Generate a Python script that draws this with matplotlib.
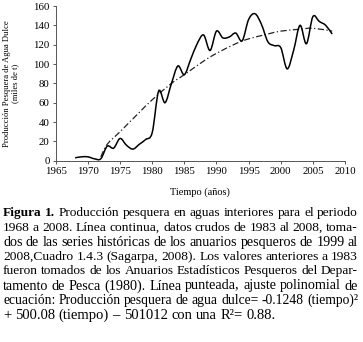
import numpy as np
import matplotlib
matplotlib.use('Agg')
import matplotlib.pyplot as plt
from matplotlib.path import Path
from matplotlib.patches import PathPatch

# raw production data (thousands of t)
years = [1968, 1969, 1970, 1971, 1972, 1973, 1974, 1975, 1976, 1977, 1978,
         1979, 1980, 1981, 1982, 1983, 1984, 1985, 1986, 1987, 1988, 1989,
         1990, 1991, 1992, 1993, 1994, 1995, 1996, 1997, 1998, 1999, 2000,
         2001, 2002, 2003, 2004, 2005, 2006, 2007, 2008]
prod = [3, 4, 4, 2, 2, 15, 13, 23, 16, 12, 17,
        22, 29, 72, 60, 80, 98, 89, 105, 121, 130, 114,
        134, 127, 128, 132, 124, 146, 152, 141, 123, 119, 117,
        95, 114, 140, 121, 149, 144, 140, 131]

# polynomial fit line
fit_years = [1972, 1973, 1975, 1978, 1980, 1983, 1985, 1988, 1990, 1993,
             1995, 1998, 2000, 2003, 2005, 2008]
fit_vals = [4, 17, 30, 50, 63, 80, 89, 103, 111, 121,
            126, 131, 134, 136, 137, 134]

caption = [
    [("Figura 1.", "bold"), ("Producción pesquera en aguas interiores para el periodo", "normal")],
    [("1968 a 2008. Línea continua, datos crudos de 1983 al 2008, toma-", "normal")],
    [("dos de las series históricas de los anuarios pesqueros de 1999 al", "normal")],
    [("2008,Cuadro 1.4.3 (Sagarpa, 2008). Los valores anteriores a 1983", "normal")],
    [("fueron tomados de los Anuarios Estadísticos Pesqueros del Depar-", "normal")],
    [("tamento de Pesca (1980). Línea punteada, ajuste polinomial de", "normal")],
    [("ecuación:  Producción pesquera de agua dulce= -0.1248 (tiempo)²", "normal")],
    [("+ 500.08 (tiempo) – 501012 con una R²= 0.88.", "normal")],
]


def smooth_path(x, y):
    # bezier curve through the points, like a spreadsheet "smoothed line"
    x = np.asarray(x, float)
    y = np.asarray(y, float)
    n = len(x)
    verts = [(x[0], y[0])]
    codes = [Path.MOVETO]
    for i in range(n - 1):
        xa, ya = (x[i - 1], y[i - 1]) if i > 0 else (x[i], y[i])
        xb, yb = (x[i + 2], y[i + 2]) if i + 2 < n else (x[i + 1], y[i + 1])
        c1 = (x[i] + (x[i + 1] - xa) / 6, y[i] + (y[i + 1] - ya) / 6)
        c2 = (x[i + 1] - (xb - x[i]) / 6, y[i + 1] - (yb - y[i]) / 6)
        verts += [c1, c2, (x[i + 1], y[i + 1])]
        codes += [Path.CURVE4] * 3
    return Path(verts, codes)


plt.rcParams['font.family'] = ['Liberation Serif', 'DejaVu Serif']

W, H = 363, 342
fig = plt.figure(figsize=(W / 100, H / 100), dpi=100)
ax = fig.add_axes([55.8 / W, 1 - 160.7 / H, 289.2 / W, 154.7 / H])

ax.add_patch(PathPatch(smooth_path(fit_years, fit_vals), fill=False,
                       ec='#222222', lw=0.9, ls=(0, (5, 2, 1, 2))))
ax.add_patch(PathPatch(smooth_path(years, prod), fill=False, ec='black', lw=1.1))

ax.set_xlim(1965, 2010)
ax.set_ylim(0, 160)
ax.set_xticks(range(1965, 2011, 5))
ax.set_yticks(range(0, 161, 20))
for s in ['top', 'right']:
    ax.spines[s].set_visible(False)
for s in ['left', 'bottom']:
    ax.spines[s].set_color('#555555')
    ax.spines[s].set_linewidth(0.7)
ax.tick_params(labelsize=7.8, length=2.5, width=0.7, color='#555555', pad=2)
ax.set_xlabel('Tiempo (años)', fontsize=7.5, va='center')
ax.xaxis.set_label_coords(0.5, -0.205)
ax.set_ylabel('Producción Pesquera de Agua Dulce\n(miles de t)', fontsize=6.2,
              linespacing=1.15, va='center')
ax.yaxis.set_label_coords(-0.155, 0.5)

# justified caption
fig.canvas.draw()
renderer = fig.canvas.get_renderer()
x0, x1 = 3 / W, 358 / W
y_top = 213
step = 14.6
fs = 10.5
for li, parts in enumerate(caption):
    words = []
    for txt, wt in parts:
        for w in txt.split():
            words.append((w, wt))
    y = 1 - (y_top + li * step) / H
    objs = [fig.text(0, y, w, fontsize=fs, fontweight=wt, va='center', ha='left')
            for w, wt in words]
    widths = [o.get_window_extent(renderer).width / W for o in objs]
    space = 0.25 * fs * 100 / 72 / W
    natural = sum(widths) + space * (len(words) - 1)
    if natural > x1 - x0:
        # shrink a line that would not fit
        k = (x1 - x0) / natural
        for o in objs:
            o.set_fontsize(fs * k)
        widths = [o.get_window_extent(renderer).width / W for o in objs]
    if li < len(caption) - 1:
        gap = (x1 - x0 - sum(widths)) / (len(words) - 1)
    else:
        gap = space
    xx = x0
    for o, w in zip(objs, widths):
        o.set_x(xx)
        xx += w + gap

fig.savefig('out.png', dpi=100, facecolor='white')
